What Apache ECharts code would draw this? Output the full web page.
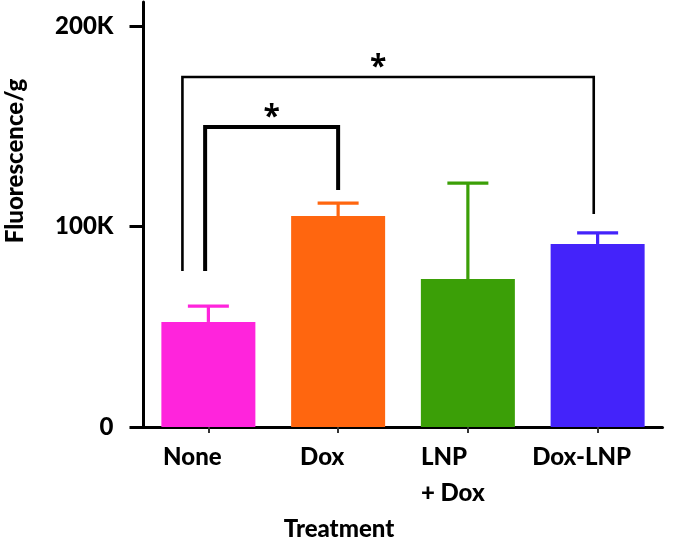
<!DOCTYPE html>
<html><head><meta charset="utf-8">
<script src="https://cdn.jsdelivr.net/npm/echarts@6/dist/echarts.min.js"></script>
<style>html,body{margin:0;padding:0;background:#fff}#c{width:677px;height:546px}</style>
</head><body><div id="c"></div>
<script>
// ---- data ----
const categories = ['None', 'Dox', 'LNP\n+ Dox', 'Dox-LNP'];
const means = [52400, 105200, 73800, 91300];
const errTops = [60300, 111700, 121700, 96800];
const yTicks = [0, 100000, 200000];
const yTickLabels = ['0', '100K', '200K'];
const barColors = ['#FF24DC', '#FF660F', '#3B9F07', '#4423FA'];
// significance brackets
const bracketFrom = [0, 0];
const bracketTo = [1, 3];
const bracketTop = [149600, 174600];
const bracketFromBottom = [77800, 77800];
const bracketToBottom = [118200, 106200];
const bracketLabels = ['*', '*'];
const yTitle = 'Fluorescence/g';
const xTitle = 'Treatment';

// ---- styles ----
const FONT = 'Lato, "Open Sans", sans-serif';
const W = 900;
const bracketStyle = [
  { width: 4, fromShift: -0.025, toShift: 0.0, starShift: 0 },
  { width: 2.6, fromShift: -0.2, toShift: -0.03, starShift: -10 }
];

const chart = echarts.init(document.getElementById('c'), null, { renderer: 'canvas' });
chart.setOption({
  animation: false,
  backgroundColor: '#fff',
  grid: { left: 143.5, right: 14.5, top: 2, bottom: 119, containLabel: false },
  xAxis: {
    type: 'category',
    data: categories,
    axisLine: { lineStyle: { color: '#000', width: 3 } },
    axisTick: { show: true, alignWithLabel: true, length: 6, lineStyle: { color: '#333', width: 2 } },
    axisLabel: {
      color: '#000', fontFamily: FONT, fontWeight: W, fontSize: 24, lineHeight: 36,
      margin: 12, padding: [0, 32, 0, 0], interval: 0,
      formatter: v => v.indexOf('\n') >= 0 ? v.split('\n').map(s => '{l|' + s + '}').join('\n') : v,
      rich: { l: { width: 62, align: 'left', color: '#000', fontFamily: FONT, fontWeight: W, fontSize: 24, lineHeight: 36 } }
    }
  },
  yAxis: {
    type: 'value', min: 0, max: 212000,
    splitLine: { show: false },
    axisLine: { show: true, lineStyle: { color: '#000', width: 3 } },
    axisTick: { show: true, length: 14, customValues: yTicks, lineStyle: { color: '#000', width: 3 } },
    axisLabel: {
      customValues: yTicks,
      formatter: v => yTickLabels[yTicks.indexOf(v)],
      color: '#000', fontFamily: FONT, fontWeight: W, fontSize: 24, margin: 30
    }
  },
  graphic: [
    { type: 'text', rotation: Math.PI / 2, x: 15, y: 161,
      style: { text: yTitle, font: W + ' 24px ' + FONT, fill: '#000', textAlign: 'center', textVerticalAlign: 'middle' } },
    { type: 'text', x: 339, y: 529,
      style: { text: xTitle, font: W + ' 24px ' + FONT, fill: '#000', textAlign: 'center', textVerticalAlign: 'middle' } }
  ],
  series: [
    {
      type: 'bar', barWidth: 94,
      data: means.map((v, i) => ({ value: v, itemStyle: { color: barColors[i] } })),
      z: 2
    },
    {
      type: 'custom', z: 3,
      data: means.map((v, i) => [i, v, errTops[i]]),
      renderItem(params, api) {
        const i = api.value(0);
        const p0 = api.coord([i, api.value(1)]);
        const p1 = api.coord([i, api.value(2)]);
        const half = 20.5;
        const st = { stroke: barColors[params.dataIndex], lineWidth: 3.2, fill: null };
        return { type: 'group', children: [
          { type: 'line', shape: { x1: p0[0], y1: p0[1], x2: p1[0], y2: p1[1] }, style: st },
          { type: 'line', shape: { x1: p1[0] - half, y1: p1[1], x2: p1[0] + half, y2: p1[1] }, style: st }
        ] };
      }
    },
    {
      type: 'custom', z: 4,
      data: bracketTop.map((t, i) => [bracketFrom[i], t]),
      renderItem(params, api) {
        const i = params.dataIndex;
        const s = bracketStyle[i];
        const band = api.size([1, 0])[0];
        const fx = api.coord([bracketFrom[i], 0])[0] + s.fromShift * band;
        const tx = api.coord([bracketTo[i], 0])[0] + s.toShift * band;
        const yT = api.coord([0, bracketTop[i]])[1];
        const yFb = api.coord([0, bracketFromBottom[i]])[1];
        const yTb = api.coord([0, bracketToBottom[i]])[1];
        return { type: 'group', children: [
          { type: 'polyline', shape: { points: [[fx, yFb], [fx, yT], [tx, yT], [tx, yTb]] },
            style: { stroke: '#000', lineWidth: s.width, fill: null, lineJoin: 'miter' } },
          { type: 'text', x: (fx + tx) / 2 + s.starShift, y: yT - 10,
            style: { text: bracketLabels[i], font: 'bold 30px "Open Sans", sans-serif', fill: '#000', textAlign: 'center', textVerticalAlign: 'middle' } }
        ] };
      }
    }
  ]
});
</script>
</body></html>
